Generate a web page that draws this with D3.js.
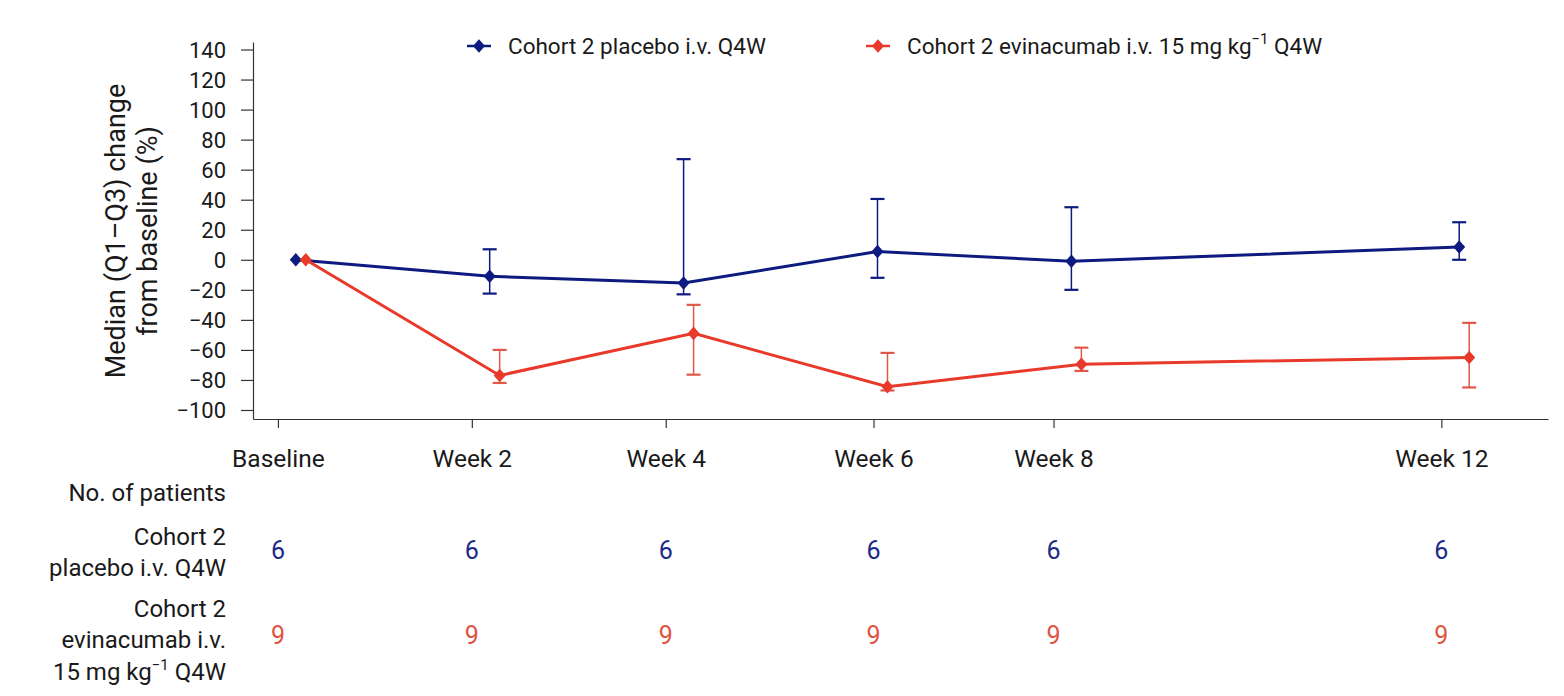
<!DOCTYPE html>
<html>
<head>
<meta charset="utf-8">
<script src="https://cdn.jsdelivr.net/npm/d3@7"></script>
<style>
  body { margin: 0; background: #fff; }
  text { font-family: Roboto, "Liberation Sans", sans-serif; font-weight: 400; fill: #1a1a1a; }
</style>
</head>
<body>
<script>
// visits, in study days
const tickLabels = ["Baseline", "Week 2", "Week 4", "Week 6", "Week 8", "Week 12"];
const tickDays = [0, 14, 28, 43, 56, 84];
const visitDays = [1, 15, 29, 43, 57, 85];

// placebo: median, Q1, Q3 (% change)
const placeboMedian = [0, -11, -15.5, 5.5, -1, 8.5];
const placeboQ1 = [null, -22.5, -23, -12, -20, 0];
const placeboQ3 = [null, 7, 67, 40.5, 35, 25];

// evinacumab: median, Q1, Q3
const evinMedian = [0, -77, -49, -84.5, -69.5, -65];
const evinQ1 = [null, -82, -76.5, -87, -74, -85];
const evinQ3 = [null, -60, -30, -62, -58.5, -42];

const placeboN = [6, 6, 6, 6, 6, 6];
const evinN = [9, 9, 9, 9, 9, 9];

const yTicks = [140, 120, 100, 80, 60, 40, 20, 0, -20, -40, -60, -80, -100];

const blue = "#0d1a80", red = "#e8392a", redBar = "#e0584a";

const W = 1564, H = 696;
const margin = {left: 253, top: 42};
const width = 1295, height = 377;

const svg = d3.select("body").append("svg")
  .attr("width", W).attr("height", H);

const g = svg.append("g")
  .attr("transform", "translate(" + margin.left + "," + margin.top + ")");

const x = d3.scaleLinear().domain([-1.8, 91.7]).range([0, width]);
const y = d3.scaleLinear().domain([-106, 145]).range([height, 0]);

// axes
const yAxis = g.append("g")
  .call(d3.axisLeft(y).tickValues(yTicks).tickSize(12).tickSizeOuter(0).tickFormat(d => d < 0 ? "\u2212" + Math.abs(d) : d));
yAxis.selectAll("text").style("font-size", "22px").attr("x", -27).attr("dy", "0.36em");

const xAxis = g.append("g")
  .attr("transform", "translate(0," + height + ")")
  .call(d3.axisBottom(x).tickValues(tickDays).tickSize(9).tickSizeOuter(0).tickFormat((d, i) => tickLabels[i]));
xAxis.selectAll("text").style("font-size", "24.5px").attr("y", 48).attr("dy", 0);

g.selectAll(".domain, .tick line").attr("stroke", "#333").attr("stroke-width", 1.2);

// y title
const ytitle = g.append("text")
  .attr("transform", "rotate(-90)")
  .attr("text-anchor", "middle")
  .style("font-size", "27px");
ytitle.append("tspan").attr("x", -(231 - margin.top)).attr("y", -128).text("Median (Q1\u2013Q3) change");
ytitle.append("tspan").attr("x", -(231 - margin.top)).attr("y", -96).text("from baseline (%)");

const series = [
  {name: "placebo", med: placeboMedian, lo: placeboQ1, hi: placeboQ3, color: blue, bar: blue, off: 4},
  {name: "evin", med: evinMedian, lo: evinQ1, hi: evinQ3, color: red, bar: redBar, off: 14}
];

const line = d3.line().x(d => d.x).y(d => d.y);
const diamond = d3.symbol().type(d3.symbolSquare).size(85);
const markerTf = "scale(0.92,1.04) rotate(45)";

series.forEach(s => {
  const pts = visitDays.map((d, i) => ({x: x(d) + s.off, y: y(s.med[i]), lo: s.lo[i], hi: s.hi[i]}));
  const sg = g.append("g");

  // error bars
  const eb = sg.selectAll(".eb").data(pts.filter(p => p.lo !== null)).enter().append("g");
  eb.append("line")
    .attr("x1", d => d.x).attr("x2", d => d.x)
    .attr("y1", d => y(d.lo)).attr("y2", d => y(d.hi))
    .attr("stroke", s.bar).attr("stroke-width", 1.5);
  [d => y(d.lo), d => y(d.hi)].forEach(fy => {
    eb.append("line")
      .attr("x1", d => d.x - 7).attr("x2", d => d.x + 7)
      .attr("y1", fy).attr("y2", fy)
      .attr("stroke", s.bar).attr("stroke-width", 2.2);
  });

  sg.append("path").datum(pts)
    .attr("d", line).attr("fill", "none")
    .attr("stroke", s.color).attr("stroke-width", 3);

  sg.selectAll(".pt").data(pts).enter().append("path")
    .attr("d", diamond)
    .attr("transform", d => "translate(" + d.x + "," + d.y + ") " + markerTf)
    .attr("fill", s.color);
});

// legend
const legend = svg.append("g");
const legItems = [
  {x: 479, color: blue, label: ["Cohort 2 placebo i.v. Q4W"]},
  {x: 878, color: red, label: ["Cohort 2 evinacumab i.v. 15 mg kg", "\u22121", " Q4W"]}
];
legItems.forEach(it => {
  const lg = legend.append("g").attr("transform", "translate(" + it.x + ",46)");
  lg.append("line").attr("x1", -12).attr("x2", 12).attr("stroke", it.color).attr("stroke-width", 2.5);
  lg.append("path").attr("d", diamond).attr("transform", markerTf).attr("fill", it.color);
  const t = lg.append("text").attr("x", 29).attr("y", 8).style("font-size", "22.5px");
  t.append("tspan").text(it.label[0]);
  if (it.label.length > 1) {
    t.append("tspan").attr("dy", -10).style("font-size", "15px").text(it.label[1]);
    t.append("tspan").attr("dy", 10).text(it.label[2]);
  }
});

// number at risk table
const table = svg.append("g").style("font-size", "24px");
table.append("text").attr("x", 226).attr("y", 501).attr("text-anchor", "end").text("No. of patients");

const pl = table.append("text").attr("text-anchor", "end");
pl.append("tspan").attr("x", 226).attr("y", 545).text("Cohort 2");
pl.append("tspan").attr("x", 226).attr("y", 576).text("placebo i.v. Q4W");

const ev = table.append("text").attr("text-anchor", "end");
ev.append("tspan").attr("x", 226).attr("y", 617).text("Cohort 2");
ev.append("tspan").attr("x", 226).attr("y", 648).text("evinacumab i.v.");
const ev3 = table.append("text").attr("text-anchor", "end").attr("x", 226).attr("y", 680);
ev3.append("tspan").text("15 mg kg");
ev3.append("tspan").attr("dy", -10).style("font-size", "15px").text("\u22121");
ev3.append("tspan").attr("dy", 10).text(" Q4W");

table.selectAll(".npl").data(placeboN).enter().append("text")
  .attr("x", (d, i) => margin.left + x(tickDays[i]))
  .attr("y", 559).attr("text-anchor", "middle")
  .style("font-size", "25px").style("fill", "#1c2a85").text(d => d);

table.selectAll(".nev").data(evinN).enter().append("text")
  .attr("x", (d, i) => margin.left + x(tickDays[i]))
  .attr("y", 644).attr("text-anchor", "middle")
  .style("font-size", "25px").style("fill", "#e0533f").text(d => d);
</script>
</body>
</html>
